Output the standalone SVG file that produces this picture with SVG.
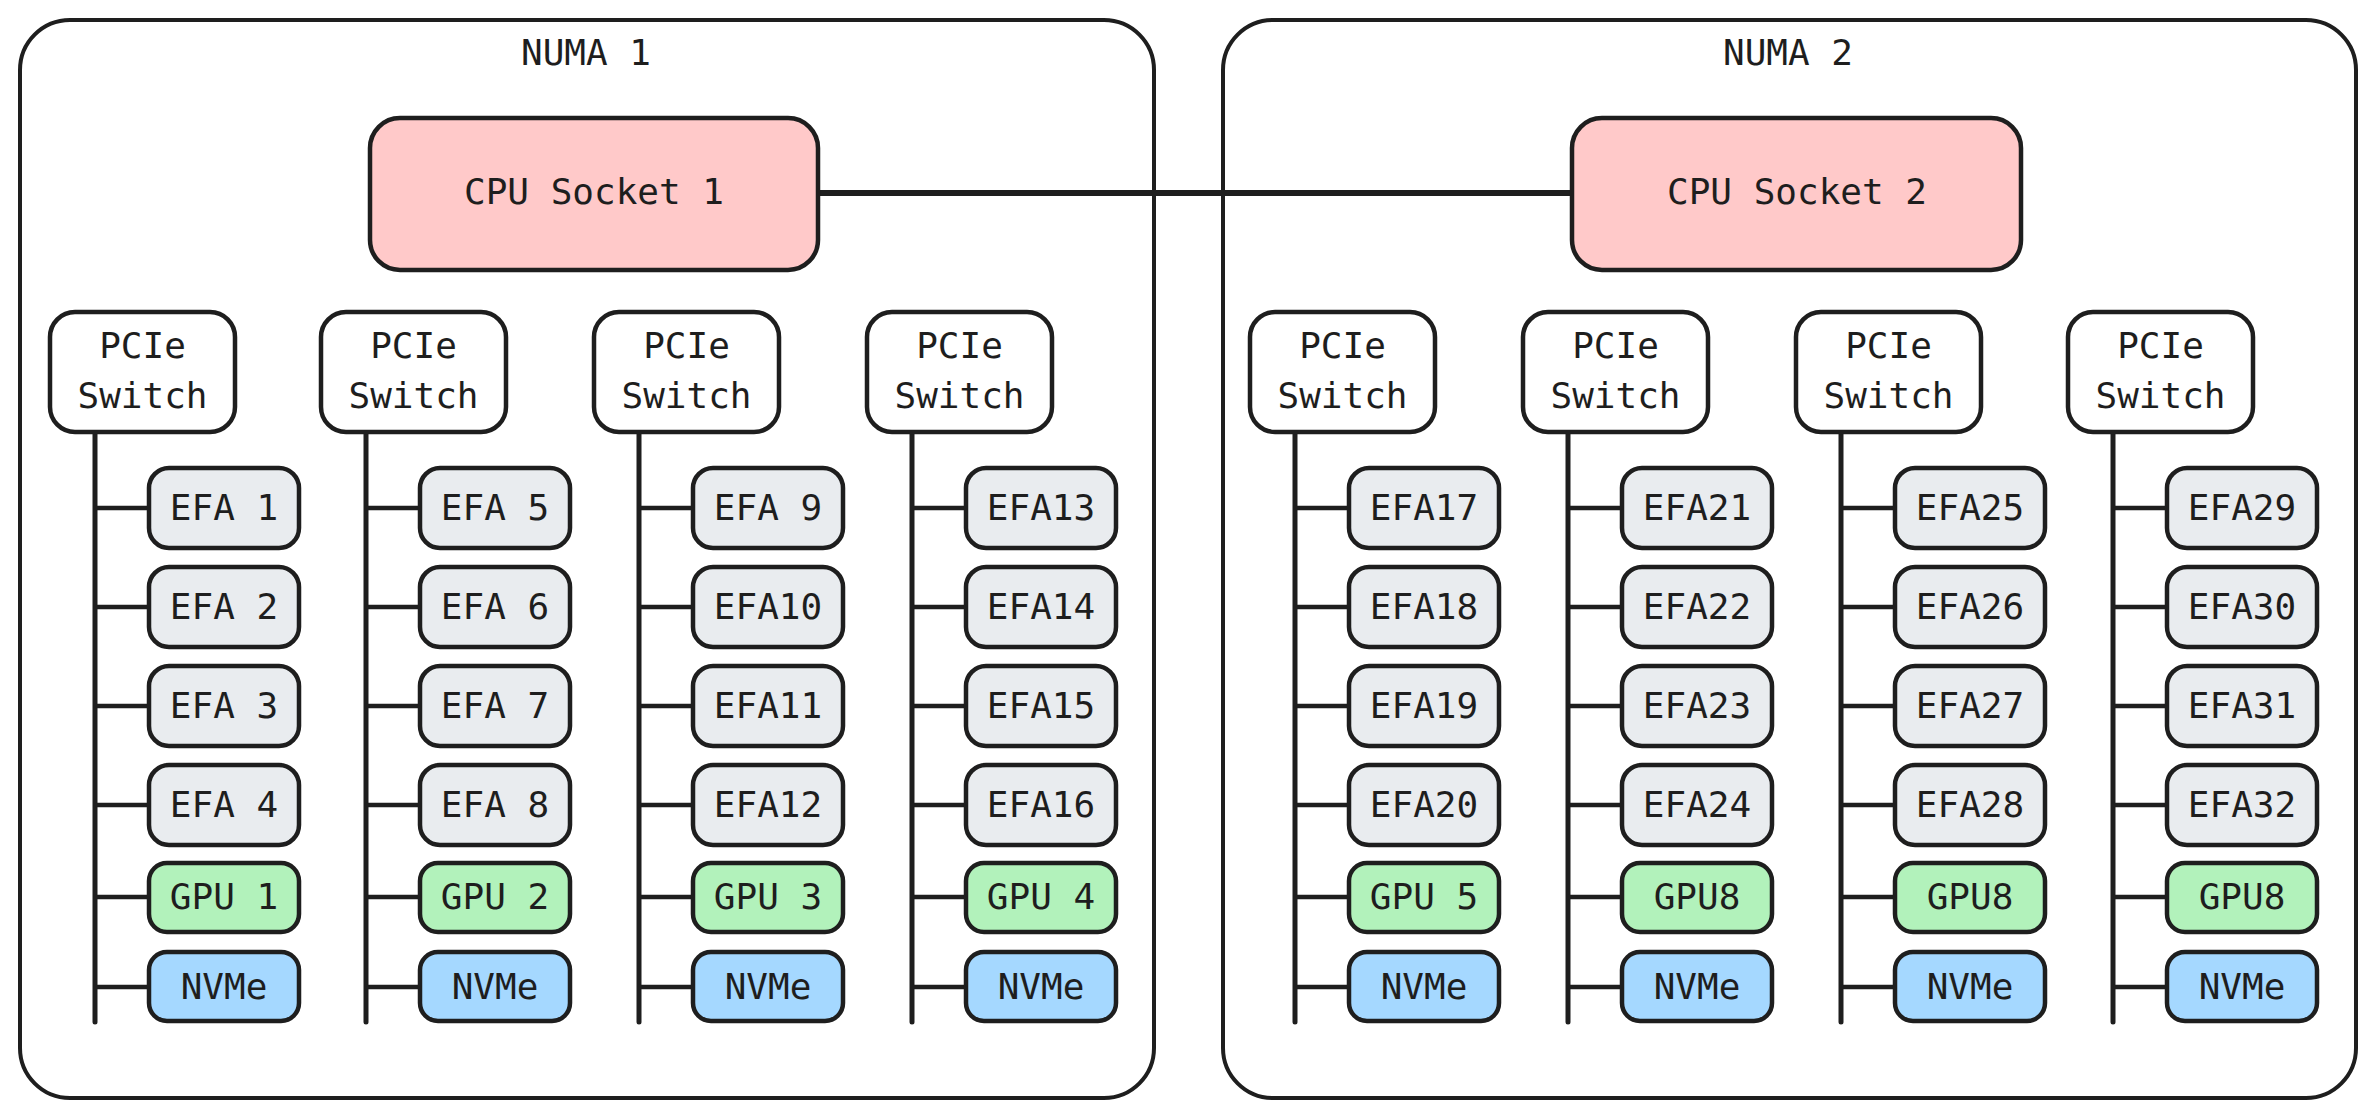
<svg xmlns="http://www.w3.org/2000/svg" width="2374" height="1118" viewBox="0 0 2374 1118">
<style>
.bg{fill:#ffffff}
.numa{fill:none;stroke:#1e1e1e;stroke-width:4}
.cpu{fill:#ffc9c9;stroke:#1e1e1e;stroke-width:4.5}
.sw{fill:#ffffff;stroke:#1e1e1e;stroke-width:4.5}
.efa{fill:#e9ecef;stroke:#1e1e1e;stroke-width:4.5}
.gpu{fill:#b2f2bb;stroke:#1e1e1e;stroke-width:4.5}
.nvme{fill:#a5d8ff;stroke:#1e1e1e;stroke-width:4.5}
.t{font-family:"DejaVu Sans Mono","Liberation Mono",monospace;font-size:36px;fill:#1e1e1e;text-anchor:middle}
.c{font-family:"DejaVu Sans Mono","Liberation Mono",monospace;font-size:36px;fill:#1e1e1e;text-anchor:middle}
.bus{stroke:#1e1e1e;stroke-width:5;stroke-linecap:round;fill:none}
.stub{stroke:#1e1e1e;stroke-width:4.5;fill:none}
.link{stroke:#1e1e1e;stroke-width:6;fill:none}
</style>
<rect class="bg" x="0" y="0" width="2374" height="1118"/>
<g id="numa1"><rect class="numa" x="20" y="20" width="1134" height="1078" rx="50"/><text class="t" x="586" y="65">NUMA 1</text></g>
<g id="numa2"><rect class="numa" x="1223" y="20" width="1133" height="1078" rx="50"/><text class="t" x="1788" y="65">NUMA 2</text></g>
<g id="connectors">
<line class="link" x1="818" y1="193" x2="1572" y2="193"/>
<line class="bus" x1="95" y1="432" x2="95" y2="1022"/>
<line class="bus" x1="366" y1="432" x2="366" y2="1022"/>
<line class="bus" x1="639" y1="432" x2="639" y2="1022"/>
<line class="bus" x1="912" y1="432" x2="912" y2="1022"/>
<line class="bus" x1="1295" y1="432" x2="1295" y2="1022"/>
<line class="bus" x1="1568" y1="432" x2="1568" y2="1022"/>
<line class="bus" x1="1841" y1="432" x2="1841" y2="1022"/>
<line class="bus" x1="2113" y1="432" x2="2113" y2="1022"/>
<path class="stub" d="M95 508H149M95 607H149M95 706H149M95 805H149M95 897H149M95 987H149"/>
<path class="stub" d="M366 508H420M366 607H420M366 706H420M366 805H420M366 897H420M366 987H420"/>
<path class="stub" d="M639 508H693M639 607H693M639 706H693M639 805H693M639 897H693M639 987H693"/>
<path class="stub" d="M912 508H966M912 607H966M912 706H966M912 805H966M912 897H966M912 987H966"/>
<path class="stub" d="M1295 508H1349M1295 607H1349M1295 706H1349M1295 805H1349M1295 897H1349M1295 987H1349"/>
<path class="stub" d="M1568 508H1622M1568 607H1622M1568 706H1622M1568 805H1622M1568 897H1622M1568 987H1622"/>
<path class="stub" d="M1841 508H1895M1841 607H1895M1841 706H1895M1841 805H1895M1841 897H1895M1841 987H1895"/>
<path class="stub" d="M2113 508H2167M2113 607H2167M2113 706H2167M2113 805H2167M2113 897H2167M2113 987H2167"/>
</g>
<g id="cpu1"><rect class="cpu" x="370" y="118" width="448" height="152" rx="30"/><text class="t" x="594" y="204">CPU Socket 1</text></g>
<g id="cpu2"><rect class="cpu" x="1572" y="118" width="449" height="152" rx="30"/><text class="t" x="1797" y="204">CPU Socket 2</text></g>
<g id="sw1"><rect class="sw" x="50" y="312" width="185" height="120" rx="25"/><text class="t" x="142.5" y="358">PCIe</text><text class="t" x="142.5" y="408">Switch</text></g>
<g id="sw2"><rect class="sw" x="321" y="312" width="185" height="120" rx="25"/><text class="t" x="413.5" y="358">PCIe</text><text class="t" x="413.5" y="408">Switch</text></g>
<g id="sw3"><rect class="sw" x="594" y="312" width="185" height="120" rx="25"/><text class="t" x="686.5" y="358">PCIe</text><text class="t" x="686.5" y="408">Switch</text></g>
<g id="sw4"><rect class="sw" x="867" y="312" width="185" height="120" rx="25"/><text class="t" x="959.5" y="358">PCIe</text><text class="t" x="959.5" y="408">Switch</text></g>
<g id="sw5"><rect class="sw" x="1250" y="312" width="185" height="120" rx="25"/><text class="t" x="1342.5" y="358">PCIe</text><text class="t" x="1342.5" y="408">Switch</text></g>
<g id="sw6"><rect class="sw" x="1523" y="312" width="185" height="120" rx="25"/><text class="t" x="1615.5" y="358">PCIe</text><text class="t" x="1615.5" y="408">Switch</text></g>
<g id="sw7"><rect class="sw" x="1796" y="312" width="185" height="120" rx="25"/><text class="t" x="1888.5" y="358">PCIe</text><text class="t" x="1888.5" y="408">Switch</text></g>
<g id="sw8"><rect class="sw" x="2068" y="312" width="185" height="120" rx="25"/><text class="t" x="2160.5" y="358">PCIe</text><text class="t" x="2160.5" y="408">Switch</text></g>

<g id="efa1"><rect class="efa" x="149" y="468" width="150" height="80" rx="20"/><text class="c" x="224" y="520">EFA 1</text></g>
<g id="efa2"><rect class="efa" x="149" y="567" width="150" height="80" rx="20"/><text class="c" x="224" y="619">EFA 2</text></g>
<g id="efa3"><rect class="efa" x="149" y="666" width="150" height="80" rx="20"/><text class="c" x="224" y="718">EFA 3</text></g>
<g id="efa4"><rect class="efa" x="149" y="765" width="150" height="80" rx="20"/><text class="c" x="224" y="817">EFA 4</text></g>
<g id="gpu1"><rect class="gpu" x="149" y="863" width="150" height="69" rx="18"/><text class="c" x="224" y="909">GPU 1</text></g>
<g id="nvme1"><rect class="nvme" x="149" y="952" width="150" height="69" rx="18"/><text class="c" x="224" y="999">NVMe</text></g>

<g id="efa5"><rect class="efa" x="420" y="468" width="150" height="80" rx="20"/><text class="c" x="495" y="520">EFA 5</text></g>
<g id="efa6"><rect class="efa" x="420" y="567" width="150" height="80" rx="20"/><text class="c" x="495" y="619">EFA 6</text></g>
<g id="efa7"><rect class="efa" x="420" y="666" width="150" height="80" rx="20"/><text class="c" x="495" y="718">EFA 7</text></g>
<g id="efa8"><rect class="efa" x="420" y="765" width="150" height="80" rx="20"/><text class="c" x="495" y="817">EFA 8</text></g>
<g id="gpu2"><rect class="gpu" x="420" y="863" width="150" height="69" rx="18"/><text class="c" x="495" y="909">GPU 2</text></g>
<g id="nvme2"><rect class="nvme" x="420" y="952" width="150" height="69" rx="18"/><text class="c" x="495" y="999">NVMe</text></g>

<g id="efa9"><rect class="efa" x="693" y="468" width="150" height="80" rx="20"/><text class="c" x="768" y="520">EFA 9</text></g>
<g id="efa10"><rect class="efa" x="693" y="567" width="150" height="80" rx="20"/><text class="c" x="768" y="619">EFA10</text></g>
<g id="efa11"><rect class="efa" x="693" y="666" width="150" height="80" rx="20"/><text class="c" x="768" y="718">EFA11</text></g>
<g id="efa12"><rect class="efa" x="693" y="765" width="150" height="80" rx="20"/><text class="c" x="768" y="817">EFA12</text></g>
<g id="gpu3"><rect class="gpu" x="693" y="863" width="150" height="69" rx="18"/><text class="c" x="768" y="909">GPU 3</text></g>
<g id="nvme3"><rect class="nvme" x="693" y="952" width="150" height="69" rx="18"/><text class="c" x="768" y="999">NVMe</text></g>

<g id="efa13"><rect class="efa" x="966" y="468" width="150" height="80" rx="20"/><text class="c" x="1041" y="520">EFA13</text></g>
<g id="efa14"><rect class="efa" x="966" y="567" width="150" height="80" rx="20"/><text class="c" x="1041" y="619">EFA14</text></g>
<g id="efa15"><rect class="efa" x="966" y="666" width="150" height="80" rx="20"/><text class="c" x="1041" y="718">EFA15</text></g>
<g id="efa16"><rect class="efa" x="966" y="765" width="150" height="80" rx="20"/><text class="c" x="1041" y="817">EFA16</text></g>
<g id="gpu4"><rect class="gpu" x="966" y="863" width="150" height="69" rx="18"/><text class="c" x="1041" y="909">GPU 4</text></g>
<g id="nvme4"><rect class="nvme" x="966" y="952" width="150" height="69" rx="18"/><text class="c" x="1041" y="999">NVMe</text></g>

<g id="efa17"><rect class="efa" x="1349" y="468" width="150" height="80" rx="20"/><text class="c" x="1424" y="520">EFA17</text></g>
<g id="efa18"><rect class="efa" x="1349" y="567" width="150" height="80" rx="20"/><text class="c" x="1424" y="619">EFA18</text></g>
<g id="efa19"><rect class="efa" x="1349" y="666" width="150" height="80" rx="20"/><text class="c" x="1424" y="718">EFA19</text></g>
<g id="efa20"><rect class="efa" x="1349" y="765" width="150" height="80" rx="20"/><text class="c" x="1424" y="817">EFA20</text></g>
<g id="gpu5"><rect class="gpu" x="1349" y="863" width="150" height="69" rx="18"/><text class="c" x="1424" y="909">GPU 5</text></g>
<g id="nvme5"><rect class="nvme" x="1349" y="952" width="150" height="69" rx="18"/><text class="c" x="1424" y="999">NVMe</text></g>

<g id="efa21"><rect class="efa" x="1622" y="468" width="150" height="80" rx="20"/><text class="c" x="1697" y="520">EFA21</text></g>
<g id="efa22"><rect class="efa" x="1622" y="567" width="150" height="80" rx="20"/><text class="c" x="1697" y="619">EFA22</text></g>
<g id="efa23"><rect class="efa" x="1622" y="666" width="150" height="80" rx="20"/><text class="c" x="1697" y="718">EFA23</text></g>
<g id="efa24"><rect class="efa" x="1622" y="765" width="150" height="80" rx="20"/><text class="c" x="1697" y="817">EFA24</text></g>
<g id="gpu6"><rect class="gpu" x="1622" y="863" width="150" height="69" rx="18"/><text class="c" x="1697" y="909">GPU8</text></g>
<g id="nvme6"><rect class="nvme" x="1622" y="952" width="150" height="69" rx="18"/><text class="c" x="1697" y="999">NVMe</text></g>

<g id="efa25"><rect class="efa" x="1895" y="468" width="150" height="80" rx="20"/><text class="c" x="1970" y="520">EFA25</text></g>
<g id="efa26"><rect class="efa" x="1895" y="567" width="150" height="80" rx="20"/><text class="c" x="1970" y="619">EFA26</text></g>
<g id="efa27"><rect class="efa" x="1895" y="666" width="150" height="80" rx="20"/><text class="c" x="1970" y="718">EFA27</text></g>
<g id="efa28"><rect class="efa" x="1895" y="765" width="150" height="80" rx="20"/><text class="c" x="1970" y="817">EFA28</text></g>
<g id="gpu7"><rect class="gpu" x="1895" y="863" width="150" height="69" rx="18"/><text class="c" x="1970" y="909">GPU8</text></g>
<g id="nvme7"><rect class="nvme" x="1895" y="952" width="150" height="69" rx="18"/><text class="c" x="1970" y="999">NVMe</text></g>

<g id="efa29"><rect class="efa" x="2167" y="468" width="150" height="80" rx="20"/><text class="c" x="2242" y="520">EFA29</text></g>
<g id="efa30"><rect class="efa" x="2167" y="567" width="150" height="80" rx="20"/><text class="c" x="2242" y="619">EFA30</text></g>
<g id="efa31"><rect class="efa" x="2167" y="666" width="150" height="80" rx="20"/><text class="c" x="2242" y="718">EFA31</text></g>
<g id="efa32"><rect class="efa" x="2167" y="765" width="150" height="80" rx="20"/><text class="c" x="2242" y="817">EFA32</text></g>
<g id="gpu8"><rect class="gpu" x="2167" y="863" width="150" height="69" rx="18"/><text class="c" x="2242" y="909">GPU8</text></g>
<g id="nvme8"><rect class="nvme" x="2167" y="952" width="150" height="69" rx="18"/><text class="c" x="2242" y="999">NVMe</text></g>
</svg>
